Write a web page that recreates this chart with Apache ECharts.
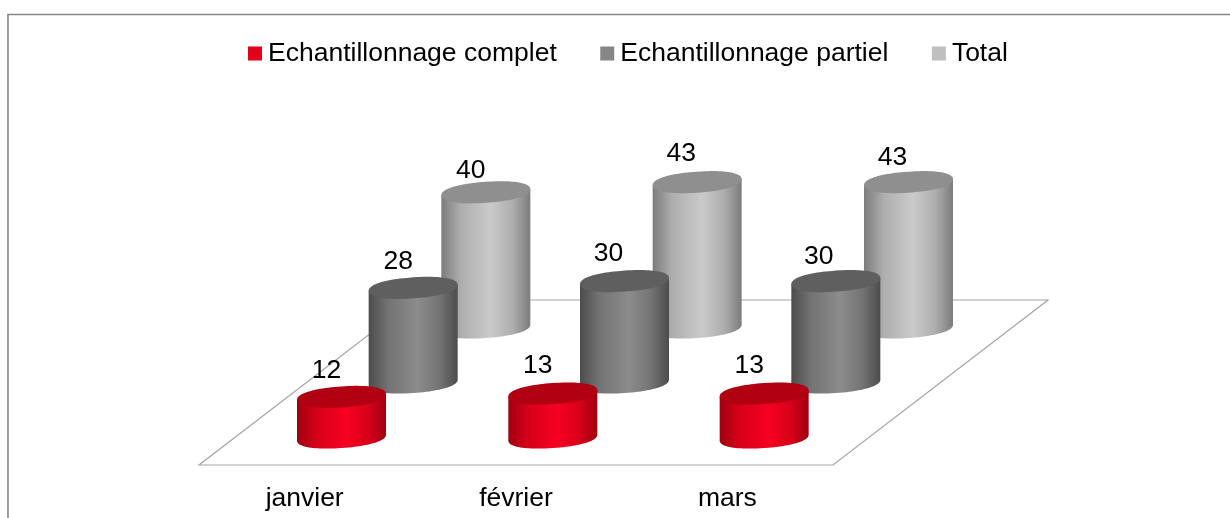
<!DOCTYPE html>
<html>
<head>
<meta charset="utf-8">
<script src="https://cdn.jsdelivr.net/npm/echarts@6/dist/echarts.min.js"></script>
<style>
  html, body { margin: 0; padding: 0; background: #fff; }
  #chart { width: 1230px; height: 518px; }
</style>
</head>
<body>
<div id="chart"></div>
<script>
const categories = ['janvier', 'février', 'mars']
const seriesNames = ['Echantillonnage complet', 'Echantillonnage partiel', 'Total']
const complet = [12, 13, 13]
const partiel = [28, 30, 30]
const total = [40, 43, 43]

const FONT = '"Liberation Sans", Arial, sans-serif'
const FONT_SIZE = 26.5

// floor depth, in pixels, and the look of each row (front to back)
const DEPTH_X = 215
const DEPTH_Y = -165
const RADIUS_X = 44.5
const RADIUS_Y = 10.5
const TILT = 3
const ROUNDNESS = 0.9
const rows = [
  { shift: 1, edge: '#a00010', side: '#d60019', mid: '#f70022', top: '#b00012', legend: '#e3001b' },
  { shift: 1, edge: '#4c4c4c', side: '#737373', mid: '#8c8c8c', top: '#5f5f5f', legend: '#868686' },
  { shift: 2, edge: '#7c7c7c', side: '#aeaeae', mid: '#cacaca', top: '#8f8f8f', legend: '#bfbfbf' }
]
// hand placed data labels, relative to the centre of the cylinder top
const labelNudge = [
  [[-15, -26], [-15, -28], [-15, -28]],
  [[-15, -26], [-16, -27], [-17, -24]],
  [[-15, -22], [-16, -28], [-16, -24]]
]

// slightly squared ellipse, tilted so that its left end sits lower
const ellipsePoint = (cx, cy, t) => {
  const c = Math.cos(t)
  const s = Math.sin(t)
  const ux = Math.sign(c) * Math.pow(Math.abs(c), ROUNDNESS)
  const uy = Math.sign(s) * Math.pow(Math.abs(s), ROUNDNESS)
  return [cx + RADIUS_X * ux, cy - RADIUS_Y * uy - TILT * ux]
}

const renderFloor = (params, api) => {
  const band = api.size([1, 0])[0]
  const left = api.coord([0, 0])
  const right = api.coord([categories.length - 1, 0])
  const x0 = left[0] - band / 2
  const x1 = right[0] + band / 2
  const y = left[1]
  return {
    type: 'polygon',
    shape: {
      points: [[x0, y], [x1, y], [x1 + DEPTH_X, y + DEPTH_Y], [x0 + DEPTH_X, y + DEPTH_Y]]
    },
    style: { fill: '#fff', stroke: '#a6a6a6', lineWidth: 1.2 }
  }
}

const renderCylinder = row => (params, api) => {
  const style = rows[row]
  const i = api.value(0)
  const value = api.value(1)
  const depth = (row + 0.5) / rows.length
  const base = api.coord([i, 0])
  const head = api.coord([i, value])
  const cx = base[0] + DEPTH_X * depth + style.shift
  const baseY = base[1] + DEPTH_Y * depth
  const topY = head[1] + DEPTH_Y * depth

  const lower = []
  for (let k = 0; k <= 48; k++) {
    lower.push(ellipsePoint(cx, baseY, Math.PI + (Math.PI * k) / 48))
  }
  const topRing = []
  for (let k = 0; k < 96; k++) {
    topRing.push(ellipsePoint(cx, topY, (Math.PI * 2 * k) / 96))
  }
  const body = [ellipsePoint(cx, topY, Math.PI)]
    .concat(lower)
    .concat([ellipsePoint(cx, topY, 0)])

  const nudge = labelNudge[row][i]
  return {
    type: 'group',
    children: [
      {
        type: 'polygon',
        shape: { points: body },
        style: {
          fill: new echarts.graphic.LinearGradient(0, 0, 1, 0, [
            { offset: 0, color: style.edge },
            { offset: 0.22, color: style.side },
            { offset: 0.55, color: style.mid },
            { offset: 0.8, color: style.side },
            { offset: 1, color: style.edge }
          ])
        }
      },
      {
        type: 'polygon',
        shape: { points: topRing },
        style: { fill: style.top }
      },
      {
        type: 'text',
        style: {
          text: String(value),
          x: cx + nudge[0],
          y: topY + nudge[1],
          align: 'center',
          verticalAlign: 'middle',
          fill: '#000',
          font: FONT_SIZE + 'px ' + FONT
        }
      }
    ]
  }
}

const toPoints = values => values.map((v, i) => [categories[i], v])

const cylinderSeries = (name, values, row) => ({
  type: 'custom',
  name: name,
  z: 5 - row,
  silent: true,
  itemStyle: { color: rows[row].legend },
  renderItem: renderCylinder(row),
  data: toPoints(values),
  encode: { x: 0, y: 1 }
})

const chart = echarts.init(document.getElementById('chart'), null, { renderer: 'canvas' })

chart.setOption({
  animation: false,
  backgroundColor: '#fff',
  color: rows.map(r => r.legend),
  graphic: [
    {
      type: 'polyline',
      silent: true,
      shape: { points: [[8, 518], [8, 14.5], [1230, 14.5]] },
      style: { fill: null, stroke: '#868686', lineWidth: 1.6 }
    }
  ],
  legend: {
    left: 243,
    top: 35,
    icon: 'rect',
    itemWidth: 14,
    itemHeight: 14,
    itemGap: 43.5,
    data: seriesNames,
    textStyle: { color: '#000', fontFamily: FONT, fontSize: FONT_SIZE, padding: [0, 0, 0, 1] }
  },
  grid: { left: 199, width: 634, top: 127, height: 338 },
  xAxis: {
    type: 'category',
    data: categories,
    axisLine: { show: false },
    axisTick: { show: false },
    axisLabel: { color: '#000', fontFamily: FONT, fontSize: FONT_SIZE, margin: 20 }
  },
  yAxis: {
    type: 'value',
    min: 0,
    max: 100,
    show: false,
    splitLine: { show: false }
  },
  series: [
    {
      type: 'custom',
      name: 'sol',
      z: 1,
      silent: true,
      renderItem: renderFloor,
      data: [[categories[0], 0]],
      encode: { x: 0, y: 1 }
    },
    cylinderSeries(seriesNames[0], complet, 0),
    cylinderSeries(seriesNames[1], partiel, 1),
    cylinderSeries(seriesNames[2], total, 2)
  ]
})
</script>
</body>
</html>
